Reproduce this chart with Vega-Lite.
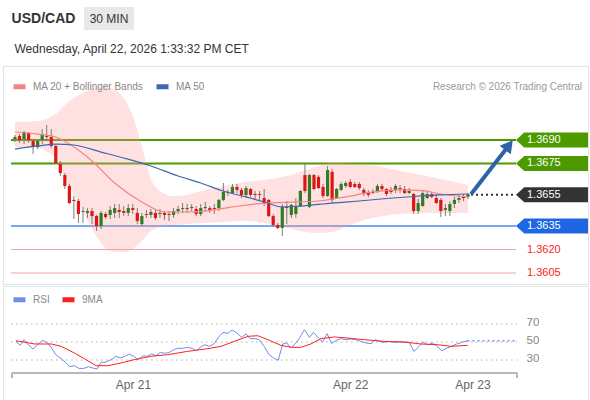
{
  "$schema": "https://vega.github.io/schema/vega-lite/v6.json",
  "padding": {"left": 2, "top": 7, "right": 0, "bottom": 0},
  "spacing": 12,
  "config": {
    "font": "Liberation Sans",
    "view": {"stroke": "#e3e3e3", "strokeWidth": 1},
    "background": "white"
  },
  "datasets": {
    "candles": [
      {"i":0,"o":1.36906,"h":1.36932,"l":1.36887,"c":1.36919},
      {"i":1,"o":1.36926,"h":1.36938,"l":1.36881,"c":1.369},
      {"i":2,"o":1.36906,"h":1.36958,"l":1.36874,"c":1.36951},
      {"i":3,"o":1.36945,"h":1.36951,"l":1.36881,"c":1.369},
      {"i":4,"o":1.36894,"h":1.36906,"l":1.36811,"c":1.36855},
      {"i":5,"o":1.36855,"h":1.369,"l":1.36842,"c":1.36894},
      {"i":6,"o":1.369,"h":1.3697,"l":1.36874,"c":1.36938},
      {"i":7,"o":1.36926,"h":1.36996,"l":1.36894,"c":1.36919},
      {"i":8,"o":1.36919,"h":1.3697,"l":1.36849,"c":1.36862},
      {"i":9,"o":1.36862,"h":1.36868,"l":1.36747,"c":1.36753},
      {"i":10,"o":1.36747,"h":1.36766,"l":1.3667,"c":1.36689},
      {"i":11,"o":1.36676,"h":1.36689,"l":1.36587,"c":1.36606},
      {"i":12,"o":1.36606,"h":1.36619,"l":1.36491,"c":1.36497},
      {"i":13,"o":1.36517,"h":1.36542,"l":1.36395,"c":1.3651},
      {"i":14,"o":1.3651,"h":1.36523,"l":1.3637,"c":1.36427},
      {"i":15,"o":1.3644,"h":1.36472,"l":1.3637,"c":1.36446},
      {"i":16,"o":1.36434,"h":1.36465,"l":1.36402,"c":1.36446},
      {"i":17,"o":1.36446,"h":1.36465,"l":1.36363,"c":1.36414},
      {"i":18,"o":1.36414,"h":1.36421,"l":1.36319,"c":1.3635},
      {"i":19,"o":1.3635,"h":1.36446,"l":1.36331,"c":1.36434},
      {"i":20,"o":1.36427,"h":1.3644,"l":1.36395,"c":1.36408},
      {"i":21,"o":1.36421,"h":1.36478,"l":1.36395,"c":1.36453},
      {"i":22,"o":1.36434,"h":1.36491,"l":1.36402,"c":1.36465},
      {"i":23,"o":1.36453,"h":1.36491,"l":1.36402,"c":1.3644},
      {"i":24,"o":1.36446,"h":1.36478,"l":1.36414,"c":1.36434},
      {"i":25,"o":1.36434,"h":1.36491,"l":1.36414,"c":1.36465},
      {"i":26,"o":1.36465,"h":1.36491,"l":1.36427,"c":1.36453},
      {"i":27,"o":1.36434,"h":1.36465,"l":1.36363,"c":1.36382},
      {"i":28,"o":1.36363,"h":1.36434,"l":1.3635,"c":1.36414},
      {"i":29,"o":1.36427,"h":1.36453,"l":1.36402,"c":1.36421},
      {"i":30,"o":1.36421,"h":1.36459,"l":1.36402,"c":1.3644},
      {"i":31,"o":1.36434,"h":1.36453,"l":1.36389,"c":1.36402},
      {"i":32,"o":1.36427,"h":1.36459,"l":1.36402,"c":1.36434},
      {"i":33,"o":1.36434,"h":1.36446,"l":1.36389,"c":1.36421},
      {"i":34,"o":1.36427,"h":1.36446,"l":1.36382,"c":1.36421},
      {"i":35,"o":1.36421,"h":1.36465,"l":1.36402,"c":1.36446},
      {"i":36,"o":1.36446,"h":1.36478,"l":1.36427,"c":1.36459},
      {"i":37,"o":1.36459,"h":1.36497,"l":1.36434,"c":1.36465},
      {"i":38,"o":1.36465,"h":1.36491,"l":1.36434,"c":1.36459},
      {"i":39,"o":1.36465,"h":1.36491,"l":1.36446,"c":1.36472},
      {"i":40,"o":1.36459,"h":1.36478,"l":1.36414,"c":1.36427},
      {"i":41,"o":1.36427,"h":1.36491,"l":1.36414,"c":1.36465},
      {"i":42,"o":1.36465,"h":1.36504,"l":1.36446,"c":1.36472},
      {"i":43,"o":1.36465,"h":1.36478,"l":1.36434,"c":1.36453},
      {"i":44,"o":1.36465,"h":1.36491,"l":1.36427,"c":1.36459},
      {"i":45,"o":1.36465,"h":1.36523,"l":1.36446,"c":1.36517},
      {"i":46,"o":1.36517,"h":1.36625,"l":1.3651,"c":1.36568},
      {"i":47,"o":1.36568,"h":1.36581,"l":1.36542,"c":1.36561},
      {"i":48,"o":1.36561,"h":1.36619,"l":1.36555,"c":1.366},
      {"i":49,"o":1.366,"h":1.36619,"l":1.36561,"c":1.36581},
      {"i":50,"o":1.36581,"h":1.36593,"l":1.36529,"c":1.36549},
      {"i":51,"o":1.36549,"h":1.36606,"l":1.36529,"c":1.36593},
      {"i":52,"o":1.36587,"h":1.36593,"l":1.36536,"c":1.36549},
      {"i":53,"o":1.36555,"h":1.36574,"l":1.36523,"c":1.36549},
      {"i":54,"o":1.36555,"h":1.36574,"l":1.3651,"c":1.36549},
      {"i":55,"o":1.36529,"h":1.36587,"l":1.36478,"c":1.36497},
      {"i":56,"o":1.36517,"h":1.36523,"l":1.36408,"c":1.36414},
      {"i":57,"o":1.36414,"h":1.36427,"l":1.36344,"c":1.36357},
      {"i":58,"o":1.36357,"h":1.3637,"l":1.36331,"c":1.36338},
      {"i":59,"o":1.36338,"h":1.36491,"l":1.36287,"c":1.36472},
      {"i":60,"o":1.36472,"h":1.3651,"l":1.36363,"c":1.36465},
      {"i":61,"o":1.36421,"h":1.36491,"l":1.36402,"c":1.36485},
      {"i":62,"o":1.36427,"h":1.36529,"l":1.36402,"c":1.36478},
      {"i":63,"o":1.36478,"h":1.36581,"l":1.36472,"c":1.36574},
      {"i":64,"o":1.36676,"h":1.36753,"l":1.36561,"c":1.36574},
      {"i":65,"o":1.36472,"h":1.36683,"l":1.36465,"c":1.36676},
      {"i":66,"o":1.36676,"h":1.36683,"l":1.36581,"c":1.36587},
      {"i":67,"o":1.36664,"h":1.36676,"l":1.36587,"c":1.36593},
      {"i":68,"o":1.366,"h":1.36619,"l":1.36529,"c":1.36542},
      {"i":69,"o":1.36542,"h":1.36734,"l":1.36536,"c":1.36708},
      {"i":70,"o":1.36696,"h":1.36715,"l":1.36497,"c":1.36517},
      {"i":71,"o":1.36529,"h":1.36593,"l":1.36523,"c":1.36587},
      {"i":72,"o":1.36581,"h":1.36632,"l":1.36574,"c":1.36619},
      {"i":73,"o":1.36606,"h":1.36638,"l":1.36593,"c":1.36625},
      {"i":74,"o":1.36632,"h":1.36651,"l":1.36593,"c":1.366},
      {"i":75,"o":1.36619,"h":1.36632,"l":1.36593,"c":1.366},
      {"i":76,"o":1.36619,"h":1.36632,"l":1.36581,"c":1.36593},
      {"i":77,"o":1.36581,"h":1.36593,"l":1.36542,"c":1.36555},
      {"i":78,"o":1.36561,"h":1.36581,"l":1.36536,"c":1.36549},
      {"i":79,"o":1.36568,"h":1.36587,"l":1.36555,"c":1.36561},
      {"i":80,"o":1.36574,"h":1.36619,"l":1.36561,"c":1.36606},
      {"i":81,"o":1.36606,"h":1.36619,"l":1.36574,"c":1.36587},
      {"i":82,"o":1.36587,"h":1.36593,"l":1.36542,"c":1.36555},
      {"i":83,"o":1.36581,"h":1.366,"l":1.36555,"c":1.36568},
      {"i":84,"o":1.36581,"h":1.36619,"l":1.36561,"c":1.36606},
      {"i":85,"o":1.36593,"h":1.36612,"l":1.36561,"c":1.36587},
      {"i":86,"o":1.36587,"h":1.36606,"l":1.36555,"c":1.36561},
      {"i":87,"o":1.36561,"h":1.36593,"l":1.36555,"c":1.36574},
      {"i":88,"o":1.36555,"h":1.36561,"l":1.36427,"c":1.36446},
      {"i":89,"o":1.36446,"h":1.36523,"l":1.36427,"c":1.36497},
      {"i":90,"o":1.36478,"h":1.36581,"l":1.36472,"c":1.36561},
      {"i":91,"o":1.36529,"h":1.36574,"l":1.36523,"c":1.36555},
      {"i":92,"o":1.36555,"h":1.36568,"l":1.36529,"c":1.36536},
      {"i":93,"o":1.36529,"h":1.36555,"l":1.36491,"c":1.36497},
      {"i":94,"o":1.36517,"h":1.36529,"l":1.36408,"c":1.36446},
      {"i":95,"o":1.36453,"h":1.36491,"l":1.36414,"c":1.36465},
      {"i":96,"o":1.36446,"h":1.3651,"l":1.36414,"c":1.36491},
      {"i":97,"o":1.36491,"h":1.36536,"l":1.36465,"c":1.36517},
      {"i":98,"o":1.36517,"h":1.36555,"l":1.36497,"c":1.36529},
      {"i":99,"o":1.36542,"h":1.36555,"l":1.3651,"c":1.36529},
      {"i":100,"o":1.36536,"h":1.36561,"l":1.36523,"c":1.36555}
    ],
    "band": [
      {"i":0,"up":1.37015,"lo":1.36855},
      {"i":5,"up":1.37021,"lo":1.36849},
      {"i":9,"up":1.37066,"lo":1.36779},
      {"i":12,"up":1.37149,"lo":1.366},
      {"i":15,"up":1.372,"lo":1.36446},
      {"i":17,"up":1.37226,"lo":1.36331},
      {"i":19,"up":1.37239,"lo":1.36242},
      {"i":21,"up":1.37232,"lo":1.36191},
      {"i":24,"up":1.37168,"lo":1.36184},
      {"i":26,"up":1.37053,"lo":1.36204},
      {"i":28,"up":1.36862,"lo":1.36255},
      {"i":30,"up":1.36651,"lo":1.36319},
      {"i":32,"up":1.36574,"lo":1.36344},
      {"i":35,"up":1.36542,"lo":1.36357},
      {"i":38,"up":1.36549,"lo":1.36363},
      {"i":41,"up":1.36574,"lo":1.3637},
      {"i":46,"up":1.36606,"lo":1.36376},
      {"i":51,"up":1.36632,"lo":1.36382},
      {"i":55,"up":1.36644,"lo":1.3637},
      {"i":59,"up":1.36664,"lo":1.36344},
      {"i":63,"up":1.36696,"lo":1.36319},
      {"i":67,"up":1.36734,"lo":1.36306},
      {"i":70,"up":1.36753,"lo":1.36312},
      {"i":75,"up":1.36747,"lo":1.3637},
      {"i":80,"up":1.36734,"lo":1.36408},
      {"i":85,"up":1.36702,"lo":1.36427},
      {"i":90,"up":1.36676,"lo":1.36434},
      {"i":95,"up":1.36644,"lo":1.36434},
      {"i":100,"up":1.36612,"lo":1.36434}
    ],
    "ma": [
      {"i":0,"v":1.36951,"s":"MA 20 + Bollinger Bands"},
      {"i":5,"v":1.36938,"s":"MA 20 + Bollinger Bands"},
      {"i":9,"v":1.36919,"s":"MA 20 + Bollinger Bands"},
      {"i":12,"v":1.36874,"s":"MA 20 + Bollinger Bands"},
      {"i":17,"v":1.36766,"s":"MA 20 + Bollinger Bands"},
      {"i":22,"v":1.36625,"s":"MA 20 + Bollinger Bands"},
      {"i":28,"v":1.36504,"s":"MA 20 + Bollinger Bands"},
      {"i":33,"v":1.3644,"s":"MA 20 + Bollinger Bands"},
      {"i":38,"v":1.3644,"s":"MA 20 + Bollinger Bands"},
      {"i":42,"v":1.36446,"s":"MA 20 + Bollinger Bands"},
      {"i":48,"v":1.36472,"s":"MA 20 + Bollinger Bands"},
      {"i":55,"v":1.36497,"s":"MA 20 + Bollinger Bands"},
      {"i":62,"v":1.36504,"s":"MA 20 + Bollinger Bands"},
      {"i":67,"v":1.3651,"s":"MA 20 + Bollinger Bands"},
      {"i":73,"v":1.36536,"s":"MA 20 + Bollinger Bands"},
      {"i":79,"v":1.36568,"s":"MA 20 + Bollinger Bands"},
      {"i":85,"v":1.36581,"s":"MA 20 + Bollinger Bands"},
      {"i":90,"v":1.36577,"s":"MA 20 + Bollinger Bands"},
      {"i":94,"v":1.36555,"s":"MA 20 + Bollinger Bands"},
      {"i":100,"v":1.36536,"s":"MA 20 + Bollinger Bands"},
      {"i":0,"v":1.36842,"s":"MA 50"},
      {"i":5,"v":1.36862,"s":"MA 50"},
      {"i":9,"v":1.36874,"s":"MA 50"},
      {"i":13,"v":1.36868,"s":"MA 50"},
      {"i":19,"v":1.36823,"s":"MA 50"},
      {"i":24,"v":1.36785,"s":"MA 50"},
      {"i":30,"v":1.36734,"s":"MA 50"},
      {"i":36,"v":1.3667,"s":"MA 50"},
      {"i":41,"v":1.36625,"s":"MA 50"},
      {"i":46,"v":1.36574,"s":"MA 50"},
      {"i":51,"v":1.36536,"s":"MA 50"},
      {"i":55,"v":1.36504,"s":"MA 50"},
      {"i":59,"v":1.36472,"s":"MA 50"},
      {"i":63,"v":1.36478,"s":"MA 50"},
      {"i":70,"v":1.36497,"s":"MA 50"},
      {"i":76,"v":1.3651,"s":"MA 50"},
      {"i":82,"v":1.36526,"s":"MA 50"},
      {"i":88,"v":1.36539,"s":"MA 50"},
      {"i":94,"v":1.36549,"s":"MA 50"},
      {"i":100,"v":1.36555,"s":"MA 50"}
    ],
    "levels": [
      {"p":1.369,"t":"res"},
      {"p":1.3675,"t":"res"},
      {"p":1.3655,"t":"last"},
      {"p":1.3635,"t":"sup"},
      {"p":1.362,"t":"tgt"},
      {"p":1.3605,"t":"tgt"}
    ],
    "arrow": [{"i0":100.66,"p0":1.36553,"i1":109.05,"p1":1.36867}],
    "rsi": [
      {"i":0.2,"v":51.4,"s":"RSI"},{"i":1.1,"v":46.3,"s":"RSI"},{"i":2.0,"v":52.6,"s":"RSI"},{"i":2.9,"v":47,"s":"RSI"},
      {"i":4.0,"v":42.2,"s":"RSI"},{"i":5.0,"v":47,"s":"RSI"},{"i":6.1,"v":51.9,"s":"RSI"},{"i":7.2,"v":48.9,"s":"RSI"},
      {"i":8.1,"v":43.3,"s":"RSI"},{"i":9.0,"v":35.9,"s":"RSI"},{"i":10.2,"v":31.5,"s":"RSI"},{"i":11.3,"v":26.7,"s":"RSI"},
      {"i":12.1,"v":22.6,"s":"RSI"},{"i":13.1,"v":23.7,"s":"RSI"},{"i":14.1,"v":20.7,"s":"RSI"},{"i":15.2,"v":20.7,"s":"RSI"},
      {"i":16.2,"v":22.6,"s":"RSI"},{"i":17.2,"v":21.1,"s":"RSI"},{"i":18.1,"v":20,"s":"RSI"},{"i":19.0,"v":27.4,"s":"RSI"},
      {"i":20.1,"v":27.8,"s":"RSI"},{"i":21.2,"v":30.4,"s":"RSI"},{"i":22.3,"v":34.1,"s":"RSI"},{"i":23.2,"v":32.2,"s":"RSI"},
      {"i":24.3,"v":34.1,"s":"RSI"},{"i":25.2,"v":36.7,"s":"RSI"},{"i":26.2,"v":34.1,"s":"RSI"},{"i":27.2,"v":30.4,"s":"RSI"},
      {"i":28.2,"v":34.4,"s":"RSI"},{"i":29.3,"v":34.4,"s":"RSI"},{"i":30.2,"v":36.7,"s":"RSI"},{"i":31.1,"v":34.8,"s":"RSI"},
      {"i":32.1,"v":38.5,"s":"RSI"},{"i":33.1,"v":37.4,"s":"RSI"},{"i":34.1,"v":38.5,"s":"RSI"},{"i":35.0,"v":41.5,"s":"RSI"},
      {"i":36.0,"v":43,"s":"RSI"},{"i":37.0,"v":43,"s":"RSI"},{"i":38.1,"v":44.1,"s":"RSI"},{"i":39.1,"v":43,"s":"RSI"},
      {"i":40.0,"v":40.4,"s":"RSI"},{"i":40.9,"v":44.1,"s":"RSI"},{"i":41.9,"v":47,"s":"RSI"},{"i":42.9,"v":45.2,"s":"RSI"},
      {"i":43.9,"v":47.8,"s":"RSI"},{"i":44.9,"v":55.2,"s":"RSI"},{"i":45.9,"v":60.7,"s":"RSI"},{"i":47.0,"v":59.6,"s":"RSI"},
      {"i":47.9,"v":63.3,"s":"RSI"},{"i":49.0,"v":60,"s":"RSI"},{"i":50.0,"v":55.2,"s":"RSI"},{"i":51.0,"v":58.9,"s":"RSI"},
      {"i":51.9,"v":53.7,"s":"RSI"},{"i":53.0,"v":53.7,"s":"RSI"},{"i":53.9,"v":52.6,"s":"RSI"},{"i":55.0,"v":45.2,"s":"RSI"},
      {"i":56.1,"v":35.9,"s":"RSI"},{"i":57.1,"v":32.2,"s":"RSI"},{"i":58.1,"v":29.7,"s":"RSI"},{"i":59.1,"v":47.8,"s":"RSI"},
      {"i":60.0,"v":48.9,"s":"RSI"},{"i":60.9,"v":43.3,"s":"RSI"},{"i":62.0,"v":48.9,"s":"RSI"},{"i":62.8,"v":54.4,"s":"RSI"},
      {"i":63.9,"v":63.7,"s":"RSI"},{"i":65.0,"v":55.2,"s":"RSI"},{"i":65.9,"v":60.7,"s":"RSI"},{"i":67.0,"v":54.4,"s":"RSI"},
      {"i":67.9,"v":50,"s":"RSI"},{"i":68.9,"v":59.2,"s":"RSI"},{"i":69.9,"v":48.5,"s":"RSI"},{"i":70.9,"v":51.9,"s":"RSI"},
      {"i":72.0,"v":53.7,"s":"RSI"},{"i":73.1,"v":52.6,"s":"RSI"},{"i":74.2,"v":53.3,"s":"RSI"},{"i":75.3,"v":52.6,"s":"RSI"},
      {"i":76.4,"v":50.7,"s":"RSI"},{"i":77.5,"v":48.9,"s":"RSI"},{"i":78.6,"v":48.1,"s":"RSI"},{"i":79.5,"v":52.6,"s":"RSI"},
      {"i":80.4,"v":50.7,"s":"RSI"},{"i":81.5,"v":49.6,"s":"RSI"},{"i":82.6,"v":50.7,"s":"RSI"},{"i":83.7,"v":49.6,"s":"RSI"},
      {"i":84.8,"v":50,"s":"RSI"},{"i":85.9,"v":50,"s":"RSI"},{"i":87.0,"v":49.6,"s":"RSI"},{"i":88.1,"v":39.6,"s":"RSI"},
      {"i":89.2,"v":45.2,"s":"RSI"},{"i":90.1,"v":50,"s":"RSI"},{"i":91.1,"v":47,"s":"RSI"},{"i":92.2,"v":48.9,"s":"RSI"},
      {"i":93.2,"v":45.2,"s":"RSI"},{"i":94.2,"v":40.4,"s":"RSI"},{"i":95.4,"v":43.3,"s":"RSI"},{"i":96.4,"v":45.2,"s":"RSI"},
      {"i":97.5,"v":47.8,"s":"RSI"},{"i":98.6,"v":49.6,"s":"RSI"},{"i":99.9,"v":51.4,"s":"RSI"},
      {"i":0.2,"v":51.4,"s":"9MA"},{"i":4.4,"v":47.8,"s":"9MA"},{"i":8.0,"v":47.8,"s":"9MA"},{"i":10.2,"v":45.2,"s":"9MA"},
      {"i":13.1,"v":37.8,"s":"9MA"},{"i":15.3,"v":31.5,"s":"9MA"},{"i":17.9,"v":23.7,"s":"9MA"},{"i":20.5,"v":23.7,"s":"9MA"},
      {"i":23.4,"v":26.7,"s":"9MA"},{"i":26.3,"v":30.4,"s":"9MA"},{"i":30.0,"v":34.1,"s":"9MA"},{"i":33.7,"v":35.9,"s":"9MA"},
      {"i":38.1,"v":39.6,"s":"9MA"},{"i":42.5,"v":42.6,"s":"9MA"},{"i":45.5,"v":45.2,"s":"9MA"},{"i":48.4,"v":50.7,"s":"9MA"},
      {"i":51.4,"v":56.3,"s":"9MA"},{"i":53.6,"v":57,"s":"9MA"},{"i":55.8,"v":52.6,"s":"9MA"},{"i":58.7,"v":46.3,"s":"9MA"},
      {"i":61.0,"v":44.1,"s":"9MA"},{"i":63.1,"v":44.1,"s":"9MA"},{"i":65.3,"v":47.8,"s":"9MA"},{"i":67.5,"v":53.7,"s":"9MA"},
      {"i":70.5,"v":55.6,"s":"9MA"},{"i":73.5,"v":54.4,"s":"9MA"},{"i":77.1,"v":52.6,"s":"9MA"},{"i":81.5,"v":50.7,"s":"9MA"},
      {"i":85.9,"v":50,"s":"9MA"},{"i":89.6,"v":47.8,"s":"9MA"},{"i":93.3,"v":47,"s":"9MA"},{"i":96.3,"v":45.2,"s":"9MA"},
      {"i":99.9,"v":46.3,"s":"9MA"}
    ],
    "rsiLevels": [{"level":30},{"level":50},{"level":70}]
  },
  "vconcat": [
    {
      "spacing": 0,
      "hconcat": [
        {
          "width": 81,
          "height": 23,
          "view": {"stroke": null},
          "data": {"values": [{"t": "USD/CAD"}]},
          "mark": {"type": "text", "fontSize": 14, "fontWeight": "bold", "color": "#333333"},
          "encoding": {"text": {"field": "t"}}
        },
        {
          "width": 50,
          "height": 23,
          "view": {"fill": "#e8e8e8", "stroke": null},
          "data": {"values": [{"t": "30 MIN"}]},
          "mark": {"type": "text", "fontSize": 12, "color": "#333333"},
          "encoding": {"text": {"field": "t"}}
        }
      ]
    },
    {
      "title": {"text": "Wednesday, April 22, 2026 1:33:32 PM CET", "anchor": "start", "fontSize": 12, "fontWeight": "normal", "color": "#333333", "offset": 5, "baseline": "middle", "dx": 12},
      "spacing": 0,
      "resolve": {"scale": {"color": "independent", "x": "independent", "y": "independent"}, "legend": {"color": "independent"}},
      "vconcat": [
        {
          "width": 585,
          "height": 218,
          "layer": [
            {
              "data": {"name": "levels"},
              "transform": [{"filter": "datum.t == 'res'"}],
              "mark": {"type": "rule", "color": "#4c9a00", "strokeWidth": 2},
              "encoding": {
                "x": {"datum": -0.88, "type": "quantitative", "scale": {"domain": [-2.65, 126.49], "nice": false, "zero": false, "padding": 0}, "axis": null},
                "x2": {"datum": 110.6},
                "y": {"field": "p", "type": "quantitative", "scale": {"domain": [1.359797, 1.373729], "nice": false, "zero": false}, "axis": null}
              }
            },
            {
              "data": {"name": "levels"},
              "transform": [{"filter": "datum.t == 'sup'"}],
              "mark": {"type": "rule", "color": "#7ba5ee", "strokeWidth": 2},
              "encoding": {
                "x": {"datum": -0.88, "type": "quantitative", "scale": {"domain": [-2.65, 126.49], "nice": false, "zero": false, "padding": 0}, "axis": null},
                "x2": {"datum": 110.6},
                "y": {"field": "p", "type": "quantitative", "scale": {"domain": [1.359797, 1.373729], "nice": false, "zero": false}, "axis": null}
              }
            },
            {
              "data": {"name": "levels"},
              "transform": [{"filter": "datum.t == 'tgt'"}],
              "mark": {"type": "rule", "color": "#f4a3a3", "strokeWidth": 1},
              "encoding": {
                "x": {"datum": -0.88, "type": "quantitative", "scale": {"domain": [-2.65, 126.49], "nice": false, "zero": false, "padding": 0}, "axis": null},
                "x2": {"datum": 110.6},
                "y": {"field": "p", "type": "quantitative", "scale": {"domain": [1.359797, 1.373729], "nice": false, "zero": false}, "axis": null}
              }
            },
            {
              "data": {"name": "band"},
              "mark": {"type": "area", "color": "#ff9a9a", "opacity": 0.3, "interpolate": "monotone"},
              "encoding": {
                "x": {"field": "i", "type": "quantitative", "scale": {"domain": [-2.65, 126.49], "nice": false, "zero": false, "padding": 0}, "axis": null},
                "y": {"field": "up", "type": "quantitative", "scale": {"domain": [1.359797, 1.373729], "nice": false, "zero": false}, "axis": null},
                "y2": {"field": "lo"}
              }
            },
            {
              "data": {"name": "candles"},
              "mark": {"type": "rule", "color": "#7a7a7a", "strokeWidth": 1},
              "encoding": {
                "x": {"field": "i", "type": "quantitative", "scale": {"domain": [-2.65, 126.49], "nice": false, "zero": false, "padding": 0}, "axis": null},
                "y": {"field": "l", "type": "quantitative", "scale": {"domain": [1.359797, 1.373729], "nice": false, "zero": false}, "axis": null},
                "y2": {"field": "h"}
              }
            },
            {
              "data": {"name": "candles"},
              "mark": {"type": "bar", "size": 3.2},
              "encoding": {
                "x": {"field": "i", "type": "quantitative", "scale": {"domain": [-2.65, 126.49], "nice": false, "zero": false, "padding": 0}, "axis": null},
                "y": {"field": "o", "type": "quantitative", "scale": {"domain": [1.359797, 1.373729], "nice": false, "zero": false}, "axis": null},
                "y2": {"field": "c"},
                "color": {"condition": {"test": "datum.c >= datum.o", "value": "#2e7d22"}, "value": "#e01414"}
              }
            },
            {
              "data": {"name": "ma"},
              "mark": {"type": "line", "strokeWidth": 1.2, "interpolate": "monotone"},
              "encoding": {
                "x": {"field": "i", "type": "quantitative", "scale": {"domain": [-2.65, 126.49], "nice": false, "zero": false, "padding": 0}, "axis": null},
                "y": {"field": "v", "type": "quantitative", "scale": {"domain": [1.359797, 1.373729], "nice": false, "zero": false}, "axis": null},
                "color": {
                  "field": "s", "type": "nominal",
                  "scale": {"domain": ["MA 20 + Bollinger Bands", "MA 50"], "range": ["#f38484", "#3d67b0"]},
                  "legend": {"orient": "none", "legendX": 8, "legendY": 12, "direction": "horizontal", "columns": 2, "title": null, "symbolType": "stroke", "symbolSize": 144, "symbolStrokeWidth": 5, "labelFontSize": 10, "labelColor": "#888888", "labelOffset": 5, "columnPadding": 2, "padding": 0}
                }
              }
            },
            {
              "data": {"name": "levels"},
              "transform": [{"filter": "datum.t == 'last'"}],
              "mark": {"type": "rule", "color": "#333333", "strokeWidth": 2, "strokeDash": [2, 3]},
              "encoding": {
                "x": {"datum": 100.66, "type": "quantitative", "scale": {"domain": [-2.65, 126.49], "nice": false, "zero": false, "padding": 0}, "axis": null},
                "x2": {"datum": 110.6},
                "y": {"field": "p", "type": "quantitative", "scale": {"domain": [1.359797, 1.373729], "nice": false, "zero": false}, "axis": null}
              }
            },
            {
              "data": {"name": "arrow"},
              "mark": {"type": "rule", "color": "#2f62a8", "strokeWidth": 4},
              "encoding": {
                "x": {"field": "i0", "type": "quantitative", "scale": {"domain": [-2.65, 126.49], "nice": false, "zero": false, "padding": 0}, "axis": null},
                "y": {"field": "p0", "type": "quantitative", "scale": {"domain": [1.359797, 1.373729], "nice": false, "zero": false}, "axis": null},
                "x2": {"field": "i1"},
                "y2": {"field": "p1"}
              }
            },
            {
              "data": {"name": "arrow"},
              "mark": {"type": "point", "shape": "triangle-up", "size": 200, "filled": true, "opacity": 1, "color": "#2f62a8", "angle": 37.7},
              "encoding": {
                "x": {"field": "i1", "type": "quantitative", "scale": {"domain": [-2.65, 126.49], "nice": false, "zero": false, "padding": 0}, "axis": null},
                "y": {"field": "p1", "type": "quantitative", "scale": {"domain": [1.359797, 1.373729], "nice": false, "zero": false}, "axis": null}
              }
            },
            {
              "data": {"name": "levels"},
              "transform": [{"filter": "datum.t != 'tgt'"}],
              "mark": {"type": "point", "shape": "M-1,0L-0.77,-0.208L1,-0.208L1,0.208L-0.77,0.208Z", "size": 5184, "filled": true, "opacity": 1, "strokeWidth": 0},
              "encoding": {
                "x": {"datum": 118.54, "type": "quantitative", "scale": {"domain": [-2.65, 126.49], "nice": false, "zero": false, "padding": 0}, "axis": null},
                "y": {"field": "p", "type": "quantitative", "scale": {"domain": [1.359797, 1.373729], "nice": false, "zero": false}, "axis": null},
                "color": {"condition": [{"test": "datum.t == 'res'", "value": "#4c9a00"}, {"test": "datum.t == 'last'", "value": "#333333"}], "value": "#1f66e5"}
              }
            },
            {
              "data": {"name": "levels"},
              "mark": {"type": "text", "align": "left", "baseline": "middle", "fontSize": 11},
              "encoding": {
                "x": {"datum": 113.02, "type": "quantitative", "scale": {"domain": [-2.65, 126.49], "nice": false, "zero": false, "padding": 0}, "axis": null},
                "y": {"field": "p", "type": "quantitative", "scale": {"domain": [1.359797, 1.373729], "nice": false, "zero": false}, "axis": null},
                "text": {"field": "p", "type": "quantitative", "format": ".4f"},
                "color": {"condition": {"test": "datum.t == 'tgt'", "value": "#ff2020"}, "value": "#ffffff"}
              }
            },
            {
              "data": {"values": [{"t": "Research \u00a9 2026 Trading Central"}]},
              "mark": {"type": "text", "align": "right", "baseline": "middle", "fontSize": 10, "color": "#9a9a9a"},
              "encoding": {
                "x": {"datum": 125.17, "type": "quantitative", "scale": {"domain": [-2.65, 126.49], "nice": false, "zero": false, "padding": 0}, "axis": null},
                "y": {"datum": 1.37239, "type": "quantitative", "scale": {"domain": [1.359797, 1.373729], "nice": false, "zero": false}, "axis": null},
                "text": {"field": "t"}
              }
            }
          ]
        },
        {
          "width": 585,
          "height": 114,
          "layer": [
            {
              "data": {"name": "rsiLevels"},
              "mark": {"type": "rule", "color": "#b0b0b0", "strokeWidth": 1, "strokeDash": [1.5, 3.5]},
              "encoding": {
                "x": {"datum": -0.88, "type": "quantitative", "scale": {"domain": [-2.65, 126.49], "nice": false, "zero": false, "padding": 0},
                  "axis": {"orient": "bottom", "offset": -27, "values": [26.05, 74.0, 101.0], "labelExpr": "datum.value < 50 ? 'Apr 21' : (datum.value < 90 ? 'Apr 22' : 'Apr 23')", "domain": false, "ticks": false, "grid": false, "labelPadding": 6, "labelFontSize": 12, "labelColor": "#666666", "labelFlush": false, "labelOverlap": false, "title": null}},
                "x2": {"datum": 110.82},
                "y": {"field": "level", "type": "quantitative", "scale": {"domain": [-14.4, 112.2], "nice": false, "zero": false},
                  "axis": {"orient": "right", "offset": -62, "values": [30, 50, 70], "domain": false, "ticks": false, "grid": false, "labelPadding": 0, "labelAlign": "left", "labelOffset": -2, "labelFontSize": 11.5, "labelColor": "#888888", "title": null}}
              }
            },
            {
              "data": {"values": [{"a": -0.66, "b": 110.82}]},
              "mark": {"type": "rule", "color": "#b8b8b8", "strokeWidth": 2},
              "encoding": {
                "x": {"field": "a", "type": "quantitative", "scale": {"domain": [-2.65, 126.49], "nice": false, "zero": false, "padding": 0},
                  "axis": {"orient": "bottom", "offset": -27, "values": [26.05, 74.0, 101.0], "labelExpr": "datum.value < 50 ? 'Apr 21' : (datum.value < 90 ? 'Apr 22' : 'Apr 23')", "domain": false, "ticks": false, "grid": false, "labelPadding": 6, "labelFontSize": 12, "labelColor": "#666666", "labelFlush": false, "labelOverlap": false, "title": null}},
                "x2": {"field": "b"},
                "y": {"datum": 15.56, "type": "quantitative", "scale": {"domain": [-14.4, 112.2], "nice": false, "zero": false},
                  "axis": {"orient": "right", "offset": -62, "values": [30, 50, 70], "domain": false, "ticks": false, "grid": false, "labelPadding": 0, "labelAlign": "left", "labelOffset": -2, "labelFontSize": 11.5, "labelColor": "#888888", "title": null}}
              }
            },
            {
              "data": {"values": [{"a": -0.66}, {"a": 110.82}]},
              "mark": {"type": "rule", "color": "#b8b8b8", "strokeWidth": 2},
              "encoding": {
                "x": {"field": "a", "type": "quantitative", "scale": {"domain": [-2.65, 126.49], "nice": false, "zero": false, "padding": 0},
                  "axis": {"orient": "bottom", "offset": -27, "values": [26.05, 74.0, 101.0], "labelExpr": "datum.value < 50 ? 'Apr 21' : (datum.value < 90 ? 'Apr 22' : 'Apr 23')", "domain": false, "ticks": false, "grid": false, "labelPadding": 6, "labelFontSize": 12, "labelColor": "#666666", "labelFlush": false, "labelOverlap": false, "title": null}},
                "y": {"datum": 16.2, "type": "quantitative", "scale": {"domain": [-14.4, 112.2], "nice": false, "zero": false},
                  "axis": {"orient": "right", "offset": -62, "values": [30, 50, 70], "domain": false, "ticks": false, "grid": false, "labelPadding": 0, "labelAlign": "left", "labelOffset": -2, "labelFontSize": 11.5, "labelColor": "#888888", "title": null}},
                "y2": {"datum": 10}
              }
            },
            {
              "data": {"values": [{"a": 99.9, "b": 110.6, "v": 51.4}]},
              "mark": {"type": "rule", "color": "#7b97ea", "strokeWidth": 1.5, "strokeDash": [2, 3]},
              "encoding": {
                "x": {"field": "a", "type": "quantitative", "scale": {"domain": [-2.65, 126.49], "nice": false, "zero": false, "padding": 0},
                  "axis": {"orient": "bottom", "offset": -27, "values": [26.05, 74.0, 101.0], "labelExpr": "datum.value < 50 ? 'Apr 21' : (datum.value < 90 ? 'Apr 22' : 'Apr 23')", "domain": false, "ticks": false, "grid": false, "labelPadding": 6, "labelFontSize": 12, "labelColor": "#666666", "labelFlush": false, "labelOverlap": false, "title": null}},
                "x2": {"field": "b"},
                "y": {"field": "v", "type": "quantitative", "scale": {"domain": [-14.4, 112.2], "nice": false, "zero": false},
                  "axis": {"orient": "right", "offset": -62, "values": [30, 50, 70], "domain": false, "ticks": false, "grid": false, "labelPadding": 0, "labelAlign": "left", "labelOffset": -2, "labelFontSize": 11.5, "labelColor": "#888888", "title": null}}
              }
            },
            {
              "data": {"name": "rsi"},
              "mark": {"type": "line", "strokeWidth": 1},
              "encoding": {
                "x": {"field": "i", "type": "quantitative", "scale": {"domain": [-2.65, 126.49], "nice": false, "zero": false, "padding": 0},
                  "axis": {"orient": "bottom", "offset": -27, "values": [26.05, 74.0, 101.0], "labelExpr": "datum.value < 50 ? 'Apr 21' : (datum.value < 90 ? 'Apr 22' : 'Apr 23')", "domain": false, "ticks": false, "grid": false, "labelPadding": 6, "labelFontSize": 12, "labelColor": "#666666", "labelFlush": false, "labelOverlap": false, "title": null}},
                "y": {"field": "v", "type": "quantitative", "scale": {"domain": [-14.4, 112.2], "nice": false, "zero": false},
                  "axis": {"orient": "right", "offset": -62, "values": [30, 50, 70], "domain": false, "ticks": false, "grid": false, "labelPadding": 0, "labelAlign": "left", "labelOffset": -2, "labelFontSize": 11.5, "labelColor": "#888888", "title": null}},
                "color": {
                  "field": "s", "type": "nominal",
                  "scale": {"domain": ["RSI", "9MA"], "range": ["#6f8fe8", "#ff1f1f"]},
                  "legend": {"orient": "none", "legendX": 8, "legendY": 5, "direction": "horizontal", "columns": 2, "title": null, "symbolType": "stroke", "symbolSize": 144, "symbolStrokeWidth": 5, "labelFontSize": 10, "labelColor": "#888888", "labelOffset": 5, "columnPadding": 2, "padding": 0}
                }
              }
            }
          ]
        }
      ]
    }
  ]
}
